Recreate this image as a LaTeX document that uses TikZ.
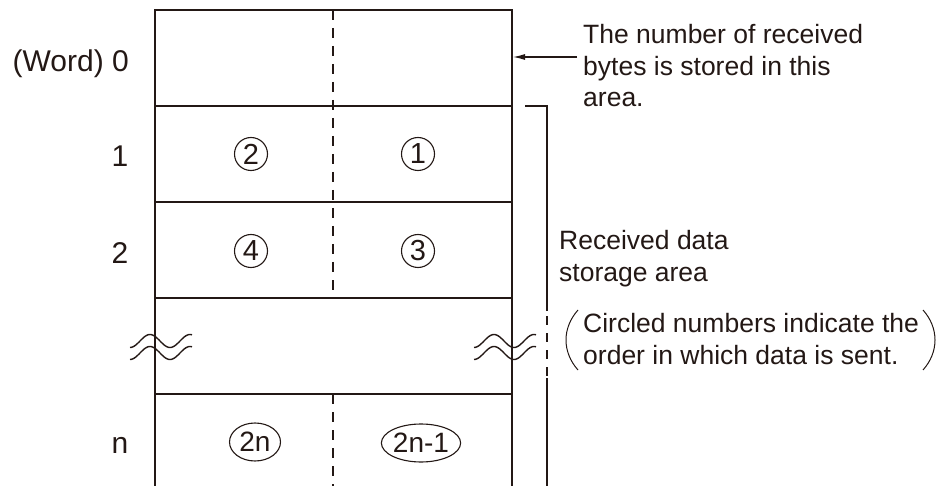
\documentclass[tikz,border=0pt]{standalone}
\usepackage{fontspec}
\setmainfont{Liberation Sans}
\usetikzlibrary{arrows.meta,shapes.geometric}
\definecolor{ink}{RGB}{35,24,21}
\begin{document}
\begin{tikzpicture}[x=1pt,y=-1pt,
  tline/.style={line width=1.7pt, draw=ink},
  dline/.style={line width=1.4pt, draw=ink, dash pattern=on 10pt off 8pt},
  lbl/.style={font=\fontsize{30}{36}\selectfont, text=ink, inner sep=0pt},
  note/.style={font=\fontsize{26.5}{31.5}\selectfont, text=ink, inner sep=0pt, align=left, anchor=base west},
  circ/.style={circle, draw=ink, line width=1.1pt, inner sep=0pt, minimum size=33pt, font=\fontsize{29}{29}\selectfont, text=ink},
  oval/.style={ellipse, draw=ink, line width=1.1pt, inner sep=0pt, minimum height=38pt, font=\fontsize{28}{28}\selectfont, text=ink},
  wave/.style={line width=1.4pt, draw=ink},
  paren/.style={line width=1pt, draw=ink}]
\useasboundingbox (0,0) rectangle (939,486);

% table frame
\draw[tline] (155,486) -- (155,10) -- (512,10) -- (512,486);
\foreach \yy in {106,202,298,394} \draw[tline] (155,\yy) -- (512,\yy);
\draw[dline] (333,10) -- (333,298);
\draw[dline] (333,394) -- (333,486);

% wave marks
\foreach \cx in {161,505} \foreach \dy in {-6,6}
  \draw[wave] plot[domain=-31:31, samples=50, smooth, variable=\t]
    ({\cx+\t},{347+\dy-6.5*sin(9*(\t+21))});

% bracket
\draw[tline] (525,106) -- (547,106) -- (547,311);
\draw[tline, line width=1.4pt, dash pattern=on 9pt off 8pt] (547,316) -- (547,376);
\draw[tline] (547,378) -- (547,486);

% row labels
\node[lbl, anchor=base east] (w0) at (129,72) {(Word) 0};
\node[lbl, anchor=base] (w1) at (120,167) {1};
\node[lbl, anchor=base] (w2) at (120,263) {2};
\node[lbl, anchor=base] (wn) at (120,453) {n};

% circled numbers
\node[circ] (c2) at (251,154) {2};
\node[circ] (c1) at (418,154) {1};
\node[circ] (c4) at (251,251) {4};
\node[circ] (c3) at (418,251) {3};
\node[oval, minimum width=51pt] (c2n) at (255,442) {2n};
\node[oval, minimum width=74pt] (c2n1) at (421,443) {2n-1};

% notes
\node[note] (n1) at (583,107) {The number of received\\bytes is stored in this\\area.};
\coordinate (arrS) at (577,57);
\coordinate (arrE) at (513,57);
\draw[line width=1.2pt, draw=ink, -{Latex[length=12pt,width=6pt]}] (arrS) -- (arrE);

\node[note] (n2) at (559,281) {Received data\\storage area};
\node[note] (n3) at (583,364) {Circled numbers indicate the\\order in which data is sent.};
\draw[paren] (578,310) .. controls (562,328) and (562,352) .. (578,370);
\draw[paren] (923,310) .. controls (939,328) and (939,352) .. (923,370);
\end{tikzpicture}
\end{document}
